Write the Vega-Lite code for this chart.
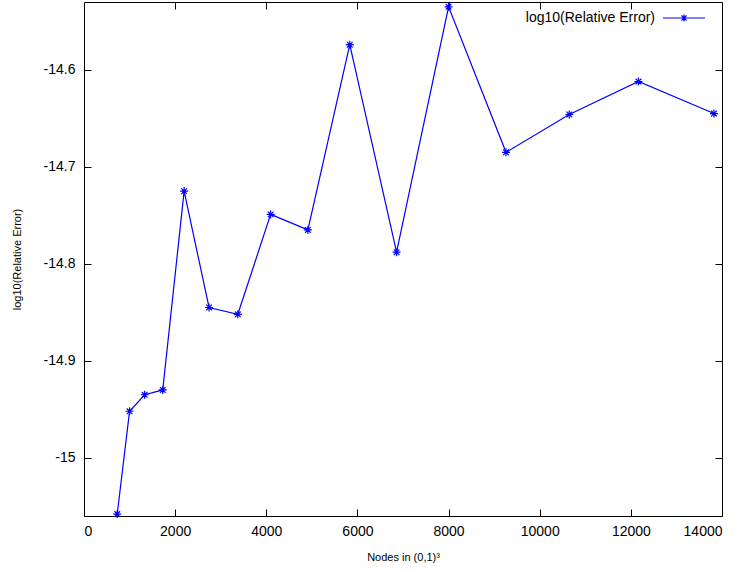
{
  "$schema": "https://vega.github.io/schema/vega-lite/v6.json",
  "width": 638,
  "height": 514,
  "autosize": {"type": "none"},
  "padding": {"left": 84, "top": 2, "right": 24, "bottom": 56},
  "background": "white",
  "config": {
    "locale": {"number": {"decimal": ".", "thousands": "", "grouping": [3], "currency": ["", ""], "minus": "-"}},
    "view": {"stroke": "black", "strokeWidth": 1},
    "font": "Liberation Sans",
    "axis": {
      "grid": false,
      "domain": false,
      "tickColor": "black",
      "tickSize": -7,
      "tickWidth": 1,
      "labelFont": "Liberation Sans",
      "labelFontSize": 14,
      "labelColor": "black",
      "titleFont": "Liberation Sans",
      "titleFontSize": 11,
      "titleFontWeight": "normal",
      "titleColor": "black"
    }
  },
  "data": {
    "values": [
      {"n": 729, "err": -15.058},
      {"n": 1000, "err": -14.952},
      {"n": 1331, "err": -14.935},
      {"n": 1728, "err": -14.930},
      {"n": 2197, "err": -14.725},
      {"n": 2744, "err": -14.845},
      {"n": 3375, "err": -14.852},
      {"n": 4096, "err": -14.749},
      {"n": 4913, "err": -14.765},
      {"n": 5832, "err": -14.574},
      {"n": 6859, "err": -14.788},
      {"n": 8000, "err": -14.535},
      {"n": 9261, "err": -14.685},
      {"n": 10648, "err": -14.646},
      {"n": 12167, "err": -14.612},
      {"n": 13824, "err": -14.645}
    ]
  },
  "resolve": {"axis": {"x": "independent", "y": "independent"}},
  "layer": [
    {
      "mark": {"type": "line", "strokeWidth": 1.2, "clip": false},
      "encoding": {
        "x": {"field": "n", "type": "quantitative",
              "scale": {"domain": [0, 14000], "nice": false, "zero": false},
              "axis": {"orient": "bottom", "values": [0, 2000, 4000, 6000, 8000, 10000, 12000, 14000], "format": "d", "labelPadding": 15, "title": "Nodes in (0,1)³", "titlePadding": 13}},
        "y": {"field": "err", "type": "quantitative",
              "scale": {"domain": [-15.06, -14.53], "nice": false, "zero": false},
              "axis": {"orient": "left", "values": [-15, -14.9, -14.8, -14.7, -14.6], "format": ".1~f", "labelPadding": 16, "title": "log10(Relative Error)", "titlePadding": 21}},
        "color": {"datum": "log10(Relative Error)", "type": "nominal",
                  "scale": {"range": ["#0000ff"]},
                  "legend": {
                    "title": null, "orient": "none", "legendX": 578, "legendY": -6,
                    "symbolType": "M-1,0H1M0,-0.17V0.17M-0.12,-0.12L0.12,0.12M-0.12,0.12L0.12,-0.12",
                    "symbolSize": 1764, "symbolStrokeWidth": 1.2,
                    "labelAlign": "right", "labelOffset": -51,
                    "labelFontSize": 14, "labelFont": "Liberation Sans", "labelColor": "black"
                  }}
      }
    },
    {
      "mark": {"type": "point", "shape": "M-1,0H1M0,-1V1M-0.7,-0.7L0.7,0.7M-0.7,0.7L0.7,-0.7", "size": 64, "strokeWidth": 1.2, "filled": false, "color": "#0000ff", "opacity": 1, "clip": false},
      "encoding": {
        "x": {"field": "n", "type": "quantitative",
              "axis": {"orient": "top", "values": [2000, 4000, 6000, 8000, 10000, 12000], "labels": false, "title": null}},
        "y": {"field": "err", "type": "quantitative",
              "axis": {"orient": "right", "values": [-15, -14.9, -14.8, -14.7, -14.6], "labels": false, "title": null}}
      }
    }
  ]
}
